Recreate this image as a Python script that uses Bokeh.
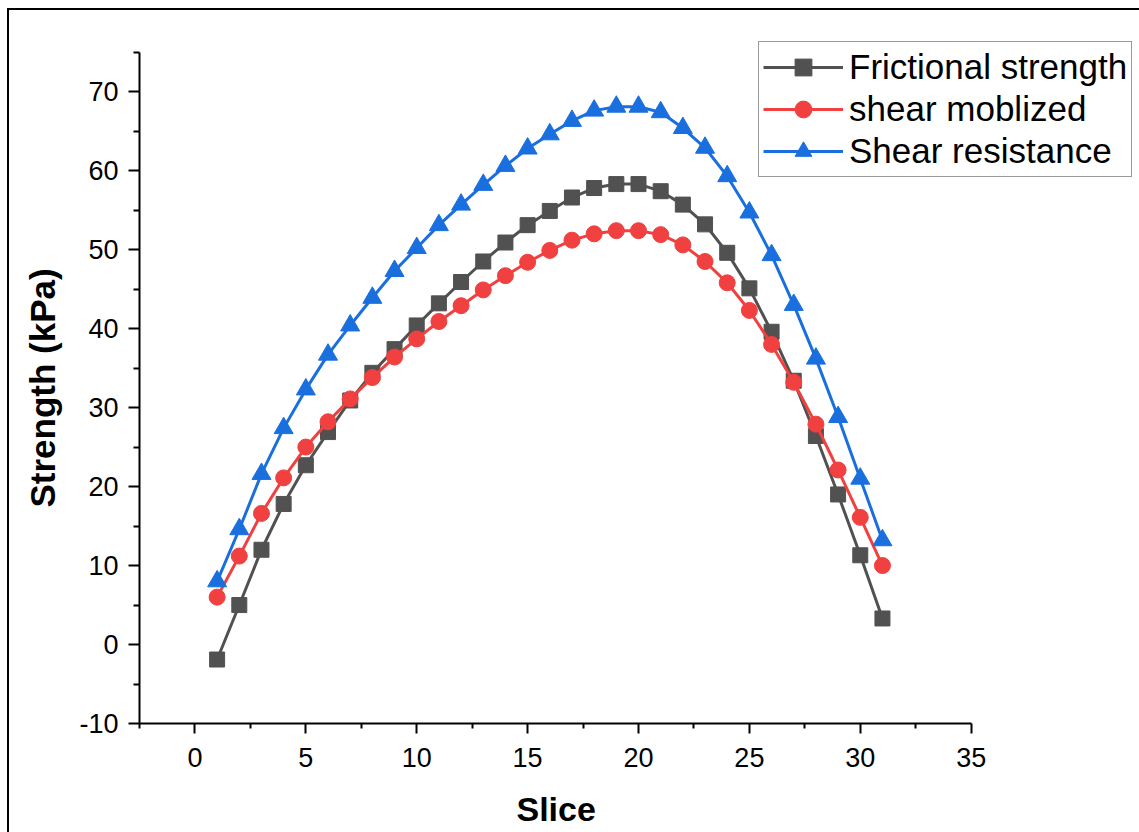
from bokeh.plotting import figure
from bokeh.models import FixedTicker, Legend, LegendItem, Title
from bokeh.embed import file_html
from bokeh.resources import INLINE

slices = list(range(1, 32))
frictional = [-1.9, 5.0, 12.0, 17.8, 22.7, 26.9, 30.9, 34.4, 37.4, 40.4, 43.2, 45.9, 48.5, 50.9, 53.1,
              54.9, 56.6, 57.8, 58.3, 58.3, 57.4, 55.7, 53.2, 49.6, 45.1, 39.6, 33.4, 26.4, 19.0, 11.3, 3.3]
mobilized = [6.0, 11.2, 16.6, 21.1, 25.0, 28.2, 31.1, 33.8, 36.4, 38.7, 40.9, 42.9, 44.9, 46.7, 48.4,
             49.9, 51.2, 52.0, 52.4, 52.4, 51.9, 50.6, 48.5, 45.8, 42.3, 38.0, 33.2, 27.9, 22.1, 16.1, 10.0]
resistance = [8.0, 14.6, 21.6, 27.4, 32.3, 36.7, 40.4, 43.9, 47.3, 50.2, 53.1, 55.7, 58.2, 60.6, 62.8,
              64.6, 66.3, 67.6, 68.1, 68.1, 67.4, 65.4, 62.9, 59.3, 54.7, 49.3, 43.0, 36.2, 28.8, 21.0, 13.2]
series_names = ["Frictional strength", "shear moblized", "Shear resistance"]
x_title = "Slice"
y_title = "Strength (kPa)"
x_ticks = [0, 5, 10, 15, 20, 25, 30, 35]
y_ticks = [-10, 0, 10, 20, 30, 40, 50, 60, 70]

FONT = "Liberation Sans"

p = figure(width=1132, height=824, x_range=(-2.5, 42.5), y_range=(-10, 78),
           output_backend="svg", toolbar_location=None,
           min_border_left=130, min_border_right=4, min_border_top=18, min_border_bottom=111)
p.margin = (8, 0, 0, 7)
p.styles = {"border-left": "2px solid black", "border-top": "2px solid black"}
p.outline_line_color = None
p.xgrid.visible = False
p.ygrid.visible = False
p.background_fill_color = "white"
p.border_fill_color = "white"

r1l = p.line(slices, frictional, line_color="#515151", line_width=3)
r1m = p.scatter(slices, frictional, marker="square", size=15, fill_color="#515151", line_color="#515151")
r2l = p.line(slices, mobilized, line_color="#F14040", line_width=3)
r2m = p.scatter(slices, mobilized, marker="circle", size=16, fill_color="#F14040", line_color="#F14040")
r3l = p.line(slices, resistance, line_color="#1A6FDF", line_width=3)
r3m = p.scatter(slices, resistance, marker="triangle", size=19, fill_color="#1A6FDF", line_color="#1A6FDF")

for ax in (p.xaxis[0], p.yaxis[0]):
    ax.axis_line_width = 2
    ax.axis_line_color = "black"
    ax.major_tick_line_width = 2
    ax.minor_tick_line_width = 2
    ax.major_tick_line_color = "black"
    ax.minor_tick_line_color = "black"
    ax.major_tick_in = 0
    ax.minor_tick_in = 0
    ax.major_label_text_font = FONT
    ax.major_label_text_font_size = "27px"
    ax.major_label_text_color = "black"

p.xaxis[0].bounds = (-2.5, 35)
p.yaxis[0].bounds = (-10, 75)
p.xaxis[0].ticker = FixedTicker(ticks=x_ticks, minor_ticks=[v + 2.5 for v in [-5] + x_ticks[:-1]])
p.yaxis[0].ticker = FixedTicker(ticks=y_ticks, minor_ticks=[v + 5 for v in y_ticks])
p.yaxis[0].major_label_overrides = {v: str(v) for v in y_ticks}
p.xaxis[0].major_tick_out = 10
p.xaxis[0].minor_tick_out = 5
p.yaxis[0].major_tick_out = 11
p.yaxis[0].minor_tick_out = 6
p.xaxis[0].major_label_standoff = 14
p.yaxis[0].major_label_standoff = 10
# spacer below the tick labels so that the axis title sits lower
p.xaxis[0].axis_label = " "
p.xaxis[0].axis_label_text_font_size = "1px"
p.xaxis[0].axis_label_standoff = 14

xt = Title(text=x_title, align="left", offset=377, vertical_align="top", standoff=4,
           text_font=FONT, text_font_size="34px", text_font_style="bold", text_color="black")
p.add_layout(xt, "below")
yt = Title(text=y_title, align="left", offset=216, vertical_align="top", standoff=26,
           text_font=FONT, text_font_size="35px", text_font_style="bold", text_color="black")
p.add_layout(yt, "left")

legend = Legend(items=[
    LegendItem(label=series_names[0], renderers=[r1l, r1m]),
    LegendItem(label=series_names[1], renderers=[r2l, r2m]),
    LegendItem(label=series_names[2], renderers=[r3l, r3m]),
], location=(619, 546))
legend.label_text_font = FONT
legend.label_text_font_size = "35px"
legend.label_text_color = "black"
legend.glyph_width = 80
legend.glyph_height = 42
legend.label_height = 42
legend.label_standoff = 6
legend.spacing = 0
legend.padding = 4
legend.margin = 0
legend.border_line_color = "#333333"
legend.border_line_width = 1.5
legend.background_fill_alpha = 1
p.add_layout(legend)

open("out.html", "w").write(file_html(p, INLINE))
